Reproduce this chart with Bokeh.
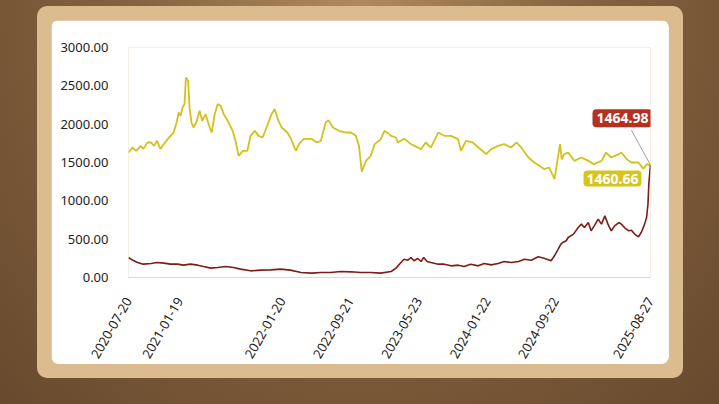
import math
import pandas as pd
from bokeh.plotting import figure
from bokeh.layouts import column
from bokeh.models import (FixedTicker, DatetimeTickFormatter, NumeralTickFormatter,
                          Label, Range1d)
from bokeh.embed import file_html
from bokeh.resources import INLINE

# ---------------- data ----------------
gold_dates = [
    "2020-07-20", "2020-08-03", "2020-08-17", "2020-09-01", "2020-09-11", "2020-09-26",
    "2020-10-09", "2020-10-19", "2020-10-30", "2020-11-11", "2020-11-23", "2020-12-07",
    "2020-12-17", "2020-12-28", "2021-01-08", "2021-01-15", "2021-01-22", "2021-01-29",
    "2021-02-05", "2021-02-10", "2021-02-18", "2021-02-23", "2021-03-02", "2021-03-09",
    "2021-03-19", "2021-03-31", "2021-04-09", "2021-04-21", "2021-05-06", "2021-05-13",
    "2021-05-24", "2021-06-03", "2021-06-14", "2021-06-25", "2021-07-09", "2021-07-27",
    "2021-08-06", "2021-08-17", "2021-09-01", "2021-09-17", "2021-09-29", "2021-10-14",
    "2021-10-28", "2021-11-11", "2021-11-25", "2021-12-13", "2021-12-24", "2022-01-04",
    "2022-01-18", "2022-02-07", "2022-02-18", "2022-03-10", "2022-03-21", "2022-04-07",
    "2022-05-05", "2022-05-23", "2022-06-07", "2022-06-24", "2022-07-04", "2022-07-20",
    "2022-08-10", "2022-09-05", "2022-09-22", "2022-10-10", "2022-10-21", "2022-10-31",
    "2022-11-15", "2022-12-02", "2022-12-16", "2023-01-06", "2023-01-20", "2023-02-06",
    "2023-02-13", "2023-03-02", "2023-03-09", "2023-03-31", "2023-04-25", "2023-05-31",
    "2023-06-16", "2023-07-05", "2023-07-31", "2023-08-21", "2023-09-15", "2023-10-10",
    "2023-10-20", "2023-11-07", "2023-12-01", "2023-12-22", "2024-01-18", "2024-02-05",
    "2024-03-01", "2024-03-22", "2024-04-16", "2024-05-06", "2024-05-22", "2024-06-17",
    "2024-07-08", "2024-07-26", "2024-08-12", "2024-08-30", "2024-09-18", "2024-10-08",
    "2024-10-14", "2024-10-23", "2024-11-06", "2024-11-28", "2024-12-23", "2025-01-17",
    "2025-02-05", "2025-03-05", "2025-03-21", "2025-04-09", "2025-05-06", "2025-05-15",
    "2025-06-03", "2025-06-20", "2025-07-15", "2025-08-01", "2025-08-15", "2025-08-27",
]
gold_values = [
    1630, 1696, 1652, 1717, 1678, 1761,
    1761, 1717, 1783, 1675, 1740, 1805,
    1848, 1891, 2022, 2152, 2109, 2217,
    2265, 2608, 2565, 2217, 2022, 1956,
    2022, 2174, 2044, 2131, 1956, 1891,
    2131, 2261, 2239, 2131, 2044, 1913,
    1783, 1587, 1652, 1652, 1848, 1913,
    1848, 1826, 1956, 2131, 2197, 2066,
    1956, 1891, 1826, 1652, 1743, 1809,
    1809, 1761, 1783, 2022, 2053, 1956,
    1913, 1891, 1891, 1848, 1717, 1380,
    1522, 1587, 1740, 1800, 1913, 1870,
    1848, 1826, 1761, 1809, 1740, 1675,
    1761, 1696, 1891, 1848, 1848, 1805,
    1652, 1783, 1761, 1696, 1609, 1675,
    1717, 1740, 1696, 1761, 1696, 1565,
    1500, 1457, 1414, 1435, 1283, 1740,
    1540, 1609, 1630, 1522, 1565, 1522,
    1479, 1522, 1630, 1565, 1609, 1630,
    1544, 1500, 1500, 1420, 1479, 1460.66,
]

red_dates = [
    "2020-07-20", "2020-08-03", "2020-08-21", "2020-09-11", "2020-10-09", "2020-10-30",
    "2020-11-23", "2020-12-17", "2021-01-11", "2021-02-01", "2021-02-26", "2021-03-24",
    "2021-04-14", "2021-05-10", "2021-06-03", "2021-07-02", "2021-07-30", "2021-08-24",
    "2021-09-29", "2021-11-04", "2021-12-10", "2022-01-14", "2022-02-18", "2022-03-28",
    "2022-05-05", "2022-06-07", "2022-07-12", "2022-08-17", "2022-09-22", "2022-10-28",
    "2022-12-02", "2023-01-06", "2023-02-13", "2023-03-02", "2023-03-20", "2023-03-31",
    "2023-04-14", "2023-04-25", "2023-05-05", "2023-05-19", "2023-05-31", "2023-06-09",
    "2023-06-21", "2023-07-05", "2023-07-31", "2023-08-21", "2023-09-15", "2023-10-10",
    "2023-10-31", "2023-11-24", "2023-12-21", "2024-01-11", "2024-02-05", "2024-03-01",
    "2024-03-22", "2024-04-16", "2024-05-13", "2024-06-03", "2024-06-27", "2024-07-22",
    "2024-08-12", "2024-09-06", "2024-09-18", "2024-09-30", "2024-10-11", "2024-10-18",
    "2024-10-30", "2024-11-06", "2024-11-25", "2024-12-12", "2024-12-23", "2025-01-03",
    "2025-01-17", "2025-01-27", "2025-02-07", "2025-02-21", "2025-03-05", "2025-03-17",
    "2025-03-28", "2025-04-09", "2025-04-21", "2025-05-06", "2025-05-15", "2025-05-26",
    "2025-06-10", "2025-06-20", "2025-07-01", "2025-07-15", "2025-07-25", "2025-08-06",
    "2025-08-13", "2025-08-18", "2025-08-21", "2025-08-25", "2025-08-27",
]
red_values = [
    261, 227, 196, 174, 183, 196,
    187, 174, 174, 161, 174, 161,
    143, 122, 130, 143, 130, 109,
    87, 96, 100, 109, 96, 65,
    57, 65, 65, 78, 74, 65,
    65, 57, 78, 122, 196, 239,
    226, 261, 218, 248, 209, 261,
    209, 196, 174, 174, 152, 161,
    143, 174, 152, 183, 165, 183,
    209, 196, 209, 239, 226, 270,
    252, 218, 283, 360, 435, 457,
    479, 522, 566, 652, 696, 652,
    717, 609, 674, 761, 696, 804,
    696, 609, 674, 717, 696, 652,
    609, 617, 566, 531, 587, 696,
    783, 957, 1218, 1392, 1464.98,
]

tick_dates = ["2020-07-20", "2021-01-19", "2022-01-20", "2022-09-21",
              "2023-05-23", "2024-01-22", "2024-09-22", "2025-08-27"]
y_ticks = [0, 500, 1000, 1500, 2000, 2500, 3000]

gold_label = "1460.66"
red_label = "1464.98"

# ---------------- figure ----------------
gx = pd.to_datetime(gold_dates)
rx = pd.to_datetime(red_dates)
start, end = pd.Timestamp(tick_dates[0]), pd.Timestamp(tick_dates[-1])

p = figure(width=618, height=344, x_axis_type="datetime",
           x_range=Range1d(start, end), y_range=Range1d(0, 3000),
           output_backend="svg", toolbar_location=None,
           min_border_left=77, min_border_right=19, min_border_top=27, min_border_bottom=87,
           background_fill_color="white", border_fill_color="white")
p.outline_line_color = None
p.grid.visible = False

p.line(gx, gold_values, color="#d6c01c", line_width=1.8)
p.line(rx, red_values, color="#7e1d16", line_width=1.6)

# y axis
ya = p.yaxis[0]
ya.ticker = FixedTicker(ticks=y_ticks)
ya.formatter = NumeralTickFormatter(format="0.00")
ya.axis_line_color = None
ya.major_tick_line_color = None
ya.minor_tick_line_color = None
ya.major_label_text_font = "Noto Sans"
ya.major_label_text_font_size = "13px"
ya.major_label_text_color = "#222222"
ya.major_label_standoff = 14

# x axis
xa = p.xaxis[0]
xa.ticker = FixedTicker(ticks=[pd.Timestamp(d).value // 10**6 for d in tick_dates])
fmt = "%Y-%m-%d"
xa.formatter = DatetimeTickFormatter(milliseconds=fmt, seconds=fmt, minsec=fmt, minutes=fmt,
                                     hourmin=fmt, hours=fmt, days=fmt, months=fmt, years=fmt)
xa.axis_line_color = "#d9d9d9"
xa.axis_line_width = 1
xa.major_tick_line_color = None
xa.minor_tick_line_color = None
xa.major_label_orientation = math.pi / 3
xa.major_label_text_font = "Noto Sans"
xa.major_label_text_font_size = "13px"
xa.major_label_text_color = "#222222"
xa.major_label_standoff = 15

# end-value callouts
last = end
p.segment(x0=[last], y0=[red_values[-1]], x1=[last - pd.Timedelta(days=68)],
          y1=[red_values[-1] + 456], line_color="#888888", line_width=0.8)

p.add_layout(Label(x=last, y=red_values[-1], x_offset=-28, y_offset=47, text=red_label,
                   text_align="center", text_baseline="middle", text_color="white",
                   text_font="Noto Sans", text_font_size="14px", text_font_style="bold",
                   background_fill_color="#b5301f", padding=4, border_radius=4))
p.add_layout(Label(x=last, y=gold_values[-1], x_offset=-38, y_offset=-13, text=gold_label,
                   text_align="center", text_baseline="middle", text_color="white",
                   text_font="Noto Sans", text_font_size="14px", text_font_style="bold",
                   background_fill_color="#d8c41c", padding=3, border_radius=4))

p.styles = {"border-radius": "8px", "overflow": "hidden"}

inner = column(p, styles={"background-color": "#dcbb8e", "padding": "14px",
                          "border-radius": "10px"})
outer = column(inner, width=719, height=404,
               styles={"position": "absolute", "left": "0px", "top": "0px",
                       "box-sizing": "border-box", "padding": "6px 0px 0px 37px",
                       "background": "radial-gradient(ellipse at 50% 0%, #b08a5c 0%, #84623f 45%, #68492d 100%)"})

open("out.html", "w").write(file_html(outer, INLINE))
